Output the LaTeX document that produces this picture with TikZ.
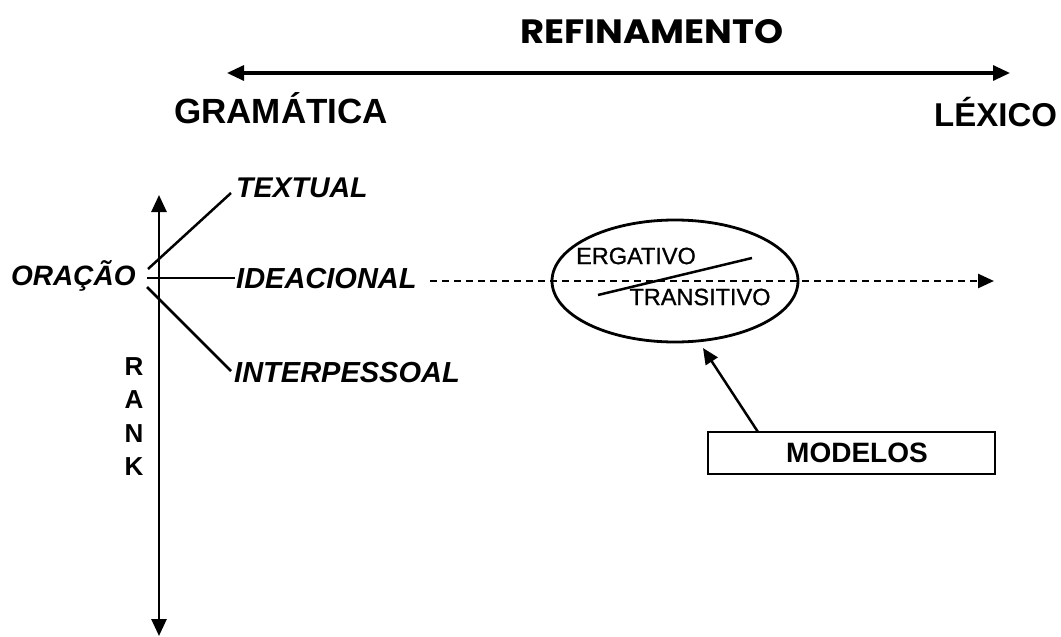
\documentclass[tikz,border=0pt]{standalone}
\usepackage{fontspec}
\usepackage{graphicx}
\setmainfont{Liberation Sans}
\newfontfamily\popfont{Poppins}
\newfontfamily\medfont[FakeBold=0.9]{Liberation Sans}
\usetikzlibrary{arrows.meta,shapes.geometric}
\tikzset{
  lbl/.style={inner sep=0pt, anchor=base west, font=\bfseries},
  bilbl/.style={inner sep=0pt, anchor=base west, font=\bfseries\itshape},
  branch/.style={line width=2.5pt},
  head/.style={-{Triangle[length=16pt,width=14pt]}},
  bothhead/.style={{Triangle[length=17pt,width=15pt]}-{Triangle[length=17pt,width=15pt]}},
  ranklbl/.style={inner sep=0pt, font=\fontsize{26}{26}\selectfont\bfseries},
  inlbl/.style={inner sep=0pt, font=\fontsize{23.5}{24}\selectfont\medfont},
}
\begin{document}
\begin{tikzpicture}[x=1pt,y=-1pt]
\useasboundingbox (0,0) rectangle (1061,637);
% title and top axis
\node[inner sep=0pt, anchor=base west] (refin) at (520,43) {\resizebox{263pt}{24pt}{\popfont\bfseries REFINAMENTO}};
\coordinate (tl) at (227,73);
\coordinate (tr) at (1010,73);
\draw[bothhead, line width=3.2pt] (tl) -- (tr);
\node[lbl, font=\fontsize{35}{35}\selectfont\bfseries] (gram) at (174,123) {GRAMÁTICA};
\node[lbl, font=\fontsize{33}{33}\selectfont\bfseries] (lex) at (934,126) {LÉXICO};
% rank axis
\coordinate (vt) at (159,195);
\coordinate (vb) at (159,636);
\draw[bothhead, line width=2.8pt] (vb) -- (vt);
\node[ranklbl] (r1) at (134,367) {R};
\node[ranklbl] (r2) at (134,400) {A};
\node[ranklbl] (r3) at (134,434) {N};
\node[ranklbl] (r4) at (134,467) {K};
% metafunctions
\node[bilbl, font=\fontsize{28}{28}\selectfont\bfseries\itshape] (oracao) at (11,285) {ORAÇÃO};
\node[bilbl, font=\fontsize{28.5}{28}\selectfont\bfseries\itshape] (textual) at (236,197) {TEXTUAL};
\node[bilbl, font=\fontsize{29}{29}\selectfont\bfseries\itshape] (ideac) at (236,288) {IDEACIONAL};
\node[bilbl, font=\fontsize{29}{29}\selectfont\bfseries\itshape] (interp) at (234,382) {INTERPESSOAL};
\coordinate (o1) at (148,269);
\coordinate (o2) at (147,278);
\coordinate (o3) at (147,287);
\coordinate (t1) at (231,193);
\coordinate (i1) at (235,278);
\coordinate (p1) at (231,371);
\draw[branch] (o1) -- (t1);
\draw[branch] (o2) -- (i1);
\draw[branch] (o3) -- (p1);
% dashed refinement line
\coordinate (d0) at (430,281);
\coordinate (d1) at (994,281);
\draw[head, line width=2.5pt, dash pattern=on 7pt off 5pt] (d0) -- (d1);
% ellipse
\node[draw, ellipse, line width=2.8pt, minimum width=246pt, minimum height=122pt, inner sep=0pt] (ell) at (675,281) {};
\node[inlbl] (erg) at (636,256) {ERGATIVO};
\node[inlbl] (trans) at (700,297) {TRANSITIVO};
\coordinate (s0) at (598,295);
\coordinate (s1) at (752,258);
\draw[line width=2.5pt] (s0) -- (s1);
% modelos
\node[draw, line width=2.8pt, minimum width=287pt, minimum height=42pt, inner sep=0pt, font=\fontsize{28}{28}\selectfont\bfseries] (mod) at (851.5,453) {\hspace{11pt}MODELOS};
\coordinate (m0) at (758,432);
\coordinate (m1) at (703,348);
\draw[head, line width=2.5pt] (m0) -- (m1);
\end{tikzpicture}
\end{document}
